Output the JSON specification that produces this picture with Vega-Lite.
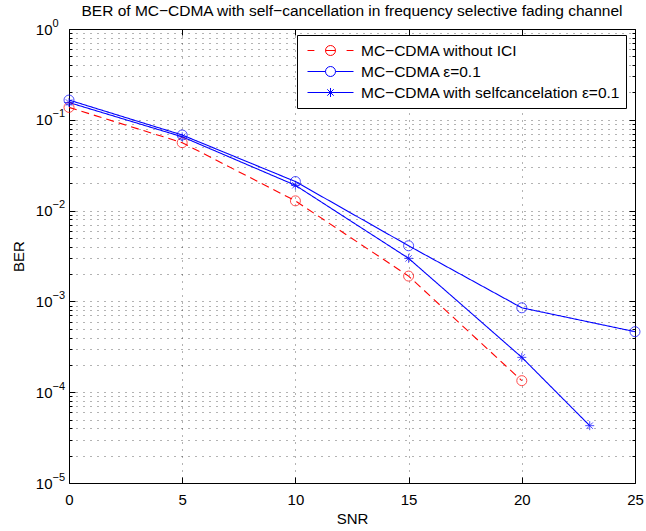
{
  "$schema": "https://vega.github.io/schema/vega-lite/v6.json",
  "width": 566,
  "height": 454,
  "autosize": {"type": "none"},
  "padding": {"left": 69, "top": 29, "right": 11, "bottom": 48},
  "background": "white",
  "title": {
    "text": "BER of MC−CDMA with self−cancellation in frequency selective fading channel",
    "font": "Liberation Sans",
    "fontSize": 15.5,
    "fontWeight": "normal",
    "color": "#000000",
    "anchor": "middle",
    "frame": "group",
    "baseline": "alphabetic",
    "offset": -14
  },
  "config": {
    "view": {"stroke": null},
    "axis": {
      "domainColor": "#000000",
      "domainWidth": 1,
      "tickColor": "#000000",
      "tickWidth": 1,
      "labelColor": "#000000",
      "titleColor": "#000000",
      "labelFont": "Liberation Sans",
      "titleFont": "Liberation Sans",
      "titleFontWeight": "normal",
      "labelFontSize": 15,
      "titleFontSize": 15,
      "gridColor": "#000000",
      "gridOpacity": 0.6,
      "gridDash": [1, 6],
      "gridWidth": 1
    },
    "legend": {
      "symbolOpacity": 1
    }
  },
  "data": {
    "values": [
      {"series": "MC−CDMA without ICI", "snr": 0, "ber": 0.137},
      {"series": "MC−CDMA without ICI", "snr": 5, "ber": 0.056},
      {"series": "MC−CDMA without ICI", "snr": 10, "ber": 0.0128},
      {"series": "MC−CDMA without ICI", "snr": 15, "ber": 0.0019},
      {"series": "MC−CDMA without ICI", "snr": 20, "ber": 0.000134},
      {"series": "MC−CDMA ε=0.1", "snr": 0, "ber": 0.165},
      {"series": "MC−CDMA ε=0.1", "snr": 5, "ber": 0.068},
      {"series": "MC−CDMA ε=0.1", "snr": 10, "ber": 0.0209},
      {"series": "MC−CDMA ε=0.1", "snr": 15, "ber": 0.0041},
      {"series": "MC−CDMA ε=0.1", "snr": 20, "ber": 0.00085},
      {"series": "MC−CDMA ε=0.1", "snr": 25, "ber": 0.000464},
      {"series": "MC−CDMA with selfcancelation ε=0.1", "snr": 0, "ber": 0.155},
      {"series": "MC−CDMA with selfcancelation ε=0.1", "snr": 5, "ber": 0.065},
      {"series": "MC−CDMA with selfcancelation ε=0.1", "snr": 10, "ber": 0.019},
      {"series": "MC−CDMA with selfcancelation ε=0.1", "snr": 15, "ber": 0.00298},
      {"series": "MC−CDMA with selfcancelation ε=0.1", "snr": 20, "ber": 0.000242},
      {"series": "MC−CDMA with selfcancelation ε=0.1", "snr": 23, "ber": 0.0000428}
    ]
  },
  "resolve": {
    "scale": {"shape": "independent", "color": "independent"},
    "axis": {"x": "independent", "y": "independent"}
  },
  "layer": [
    {
      "mark": {"type": "line", "strokeWidth": 1.1, "clip": false},
      "encoding": {
        "x": {
          "field": "snr", "type": "quantitative",
          "scale": {"domain": [0, 25], "nice": false, "zero": false},
          "axis": {
            "orient": "bottom",
            "title": "SNR",
            "values": [0, 5, 10, 15, 20, 25],
            "grid": true,
            "tickSize": -6,
            "labelPadding": 15,
            "titlePadding": 4,
            "labelFlush": false
          }
        },
        "y": {
          "field": "ber", "type": "quantitative",
          "scale": {"type": "log", "domain": [0.00001, 1], "nice": false},
          "axis": {
            "orient": "left",
            "title": "BER",
            "values": [0.00001, 0.00002, 0.00003, 0.00004, 0.00005, 0.00006, 0.00007, 0.00008, 0.00009,
                       0.0001, 0.0002, 0.0003, 0.0004, 0.0005, 0.0006, 0.0007, 0.0008, 0.0009,
                       0.001, 0.002, 0.003, 0.004, 0.005, 0.006, 0.007, 0.008, 0.009,
                       0.01, 0.02, 0.03, 0.04, 0.05, 0.06, 0.07, 0.08, 0.09,
                       0.1, 0.2, 0.3, 0.4, 0.5, 0.6, 0.7, 0.8, 0.9, 1],
            "grid": true,
            "tickSize": {"condition": {"test": "abs(log(datum.value)/LN10 - round(log(datum.value)/LN10)) < 0.001", "value": -6}, "value": -3},
            "labelPadding": 23,
            "labelFlush": false,
            "labelExpr": "abs(log(datum.value)/LN10 - round(log(datum.value)/LN10)) < 0.001 ? '10' : ''",
            "titlePadding": 9
          }
        },
        "color": {
          "field": "series", "type": "nominal",
          "scale": {"domain": ["MC−CDMA without ICI", "MC−CDMA ε=0.1", "MC−CDMA with selfcancelation ε=0.1"], "range": ["#ff0000", "#0000ff", "#0000ff"]},
          "legend": null
        },
        "strokeDash": {
          "field": "series", "type": "nominal",
          "scale": {"domain": ["MC−CDMA without ICI", "MC−CDMA ε=0.1", "MC−CDMA with selfcancelation ε=0.1"], "range": [[8, 5], [1, 0], [1, 0]]},
          "legend": null
        }
      }
    },
    {
      "mark": {"type": "point", "filled": false, "strokeWidth": 1, "size": 100, "clip": false},
      "encoding": {
        "x": {
          "field": "snr", "type": "quantitative",
          "scale": {"domain": [0, 25], "nice": false, "zero": false},
          "axis": {"orient": "top", "title": null, "values": [0, 5, 10, 15, 20, 25], "labels": false, "grid": false, "tickSize": -6}
        },
        "y": {
          "field": "ber", "type": "quantitative",
          "scale": {"type": "log", "domain": [0.00001, 1], "nice": false},
          "axis": {
            "orient": "right", "title": null, "labels": false, "grid": false,
            "values": [0.00001, 0.00002, 0.00003, 0.00004, 0.00005, 0.00006, 0.00007, 0.00008, 0.00009,
                       0.0001, 0.0002, 0.0003, 0.0004, 0.0005, 0.0006, 0.0007, 0.0008, 0.0009,
                       0.001, 0.002, 0.003, 0.004, 0.005, 0.006, 0.007, 0.008, 0.009,
                       0.01, 0.02, 0.03, 0.04, 0.05, 0.06, 0.07, 0.08, 0.09,
                       0.1, 0.2, 0.3, 0.4, 0.5, 0.6, 0.7, 0.8, 0.9, 1],
            "tickSize": {"condition": {"test": "abs(log(datum.value)/LN10 - round(log(datum.value)/LN10)) < 0.001", "value": -6}, "value": -3}
          }
        },
        "color": {
          "field": "series", "type": "nominal",
          "scale": {"domain": ["MC−CDMA without ICI", "MC−CDMA ε=0.1", "MC−CDMA with selfcancelation ε=0.1"], "range": ["#ff0000", "#0000ff", "#0000ff"]},
          "legend": null
        },
        "shape": {
          "field": "series", "type": "nominal",
          "scale": {"domain": ["MC−CDMA without ICI", "MC−CDMA ε=0.1", "MC−CDMA with selfcancelation ε=0.1"], "range": ["circle", "circle", "M0,-0.9L0,0.9M-0.9,0L0.9,0M-0.64,-0.64L0.64,0.64M-0.64,0.64L0.64,-0.64"]},
          "legend": null
        }
      }
    },
    {
      "mark": {"type": "point", "filled": false, "opacity": 0, "clip": false},
      "encoding": {
        "x": {"field": "snr", "type": "quantitative", "scale": {"domain": [0, 25], "nice": false, "zero": false}, "axis": null},
        "y": {
          "field": "ber", "type": "quantitative",
          "scale": {"type": "log", "domain": [0.00001, 1], "nice": false},
          "axis": {
            "orient": "left",
            "title": null,
            "values": [0.00001, 0.0001, 0.001, 0.01, 0.1, 1],
            "ticks": false,
            "domain": false,
            "grid": false,
            "labelAlign": "left",
            "labelBaseline": "alphabetic",
            "labelPadding": 17,
            "labelOffset": -3,
            "labelFontSize": 11,
            "labelFlush": false,
            "labelExpr": "round(log(datum.value)/LN10) == 0 ? '0' : '−' + (-round(log(datum.value)/LN10))"
          }
        },
        "color": {
          "field": "series", "type": "nominal",
          "scale": {"domain": ["MC−CDMA without ICI", "MC−CDMA ε=0.1", "MC−CDMA with selfcancelation ε=0.1"], "range": ["#ff0000", "#0000ff", "#0000ff"]},
          "legend": {
            "title": null,
            "orient": "none",
            "legendX": 228,
            "legendY": 6,
            "fillColor": "#ffffff",
            "strokeColor": "#000000",
            "padding": 5,
            "cornerRadius": 0,
            "symbolSize": 2116,
            "symbolStrokeWidth": 1,
            "symbolOpacity": 1,
            "symbolOffset": 5,
            "labelOffset": 7,
            "clipHeight": 21,
            "rowPadding": 0,
            "labelFont": "Liberation Sans",
            "labelFontSize": 15.5,
            "labelColor": "#000000",
            "labelLimit": 400
          }
        },
        "shape": {
          "field": "series", "type": "nominal",
          "scale": {"domain": ["MC−CDMA without ICI", "MC−CDMA ε=0.1", "MC−CDMA with selfcancelation ε=0.1"], "range": [
            "M-1,0L-0.7,0M-0.217,0L0.217,0M0.7,0L1,0M0.217,0A0.217,0.217,0,1,1,-0.217,0A0.217,0.217,0,1,1,0.217,0",
            "M-1,0L-0.217,0M0.217,0L1,0M0.217,0A0.217,0.217,0,1,1,-0.217,0A0.217,0.217,0,1,1,0.217,0",
            "M-1,0L1,0M0,-0.196L0,0.196M-0.139,-0.139L0.139,0.139M-0.139,0.139L0.139,-0.139"
          ]},
          "legend": {
            "title": null,
            "orient": "none",
            "legendX": 228,
            "legendY": 6,
            "symbolSize": 2116,
            "clipHeight": 21
          }
        }
      }
    }
  ]
}
